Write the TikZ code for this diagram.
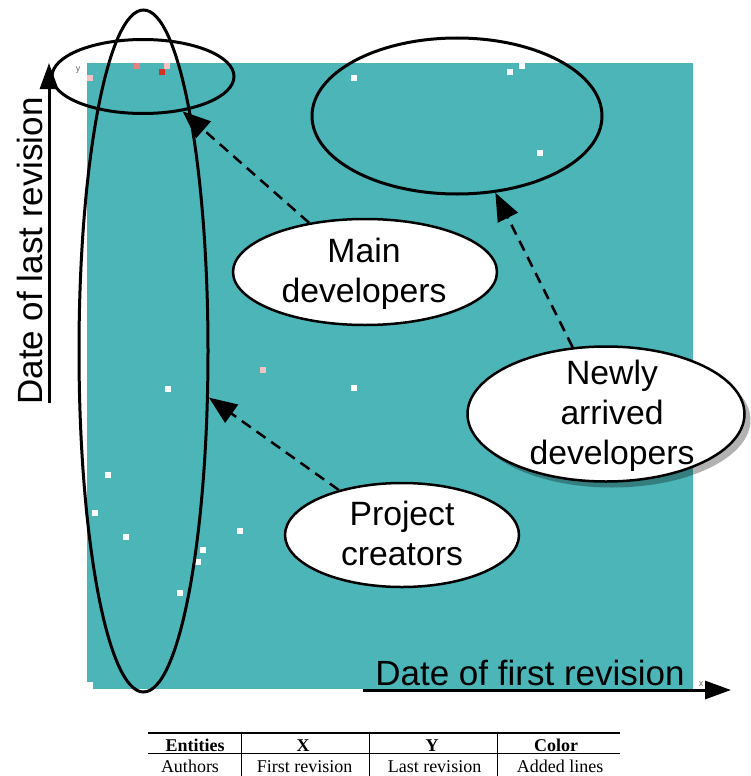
\documentclass[tikz,border=0pt]{standalone}
\usepackage{fontspec}
\setmainfont{Liberation Sans}
\newfontfamily\serifface{Liberation Serif}
\usetikzlibrary{shapes.geometric,arrows.meta,shadows}
\definecolor{plotteal}{RGB}{75,181,184}
\definecolor{cellpink}{RGB}{244,194,194}
\definecolor{cellsalmon}{RGB}{232,128,128}
\definecolor{cellred}{RGB}{214,48,32}
\tikzset{
  group/.style={ellipse, draw, line width=3pt, inner sep=0pt},
  callout/.style={ellipse, draw, fill=white, line width=2.5pt, inner sep=0pt},
  calltext/.style={font=\fontsize{33.7}{40}\selectfont, align=center, inner sep=0pt},
  pointer/.style={-{Triangle[length=28pt,width=22pt]}, line width=2.5pt, dash pattern=on 11pt off 7pt},
  axisline/.style={-{Triangle[length=26pt,width=18pt]}, line width=3pt},
  axislabel/.style={font=\fontsize{35}{40}\selectfont, inner sep=0pt, anchor=base},
  ticklabel/.style={font=\fontsize{9}{10}\selectfont, text=gray!80!black, inner sep=0pt},
  tabtext/.style={font=\serifface\fontsize{18}{20}\selectfont, inner sep=0pt, anchor=base},
  tabhead/.style={tabtext, font=\serifface\bfseries\fontsize{18}{20}\selectfont},
}
\begin{document}
\begin{tikzpicture}[x=1pt, y=-1pt]
\useasboundingbox (0,0) rectangle (750,776);

% plot area
\fill[plotteal] (87,63) rectangle (693,689);
\fill[white] (86,682) rectangle (93,690);

% cells of the plot
\foreach \cx/\cy in {354/78, 510/72, 522/66, 540/153, 168/389, 354/388,
                     108/475, 95/513, 126/537, 203/550, 198/562, 240/531, 180/593}
  \fill[white] (\cx-3,\cy-3) rectangle ++(6,6);
\fill[cellpink]   (87,75) rectangle ++(6,6);
\fill[cellsalmon] (134,63) rectangle ++(6,6);
\fill[cellpink]   (164,63) rectangle ++(6,6);
\fill[cellred]    (159,69) rectangle ++(6,6);
\fill[cellpink]   (260,367) rectangle ++(6,6);

\node[ticklabel] (ytick) at (78,70) {y};
\node[ticklabel] (xtick) at (701,684) {x};

% axes
\coordinate (yfoot) at (49,403);
\coordinate (yhead) at (49,63);
\coordinate (xfoot) at (363,690);
\coordinate (xhead) at (731,690);
\draw[axisline] (yfoot) -- (yhead);
\draw[axisline] (xfoot) -- (xhead);
\node[axislabel, rotate=90] (ylab) at (42,251) {Date of last revision};
\node[axislabel] (xlab) at (530,685) {Date of first revision};

% highlighted groups
\node[group, minimum width=129pt, minimum height=682pt] (creatorsgrp) at (143.5,351) {};
\node[group, minimum width=182pt, minimum height=74pt] (maingrp) at (143,76.5) {};
\node[group, minimum width=290pt, minimum height=156pt] (newgrp) at (457,116) {};

% callouts
\node[callout, minimum width=264pt, minimum height=106pt] (maindev) at (365,272) {};
\node[calltext] (maintext) at (364,274) {Main\\developers};

\node[callout, minimum width=277pt, minimum height=135pt,
      drop shadow={shadow xshift=6pt, shadow yshift=-6pt, fill=black, opacity=0.3}] (newdev) at (606,414) {};
\node[calltext] (newtext) at (612,416) {Newly\\arrived\\developers};

\node[callout, minimum width=234pt, minimum height=104pt] (creators) at (402,535) {};
\node[calltext] (creatorstext) at (402,533) {Project\\creators};

% pointers
\draw[pointer] (maindev) -- (maingrp);
\draw[pointer] (newdev) -- (newgrp);
\draw[pointer] (creators) -- (creatorsgrp);

% legend table
\draw[line width=1.2pt] (148,733) -- (620,733);
\draw[line width=0.6pt] (148,753) -- (620,753);
\foreach \sx in {241,369,497}
  \draw[line width=0.6pt] (\sx,733) -- (\sx,776);
\node[tabhead] (h1) at (195,751) {Entities};
\node[tabhead] (h2) at (303,751) {X};
\node[tabhead] (h3) at (432,751) {Y};
\node[tabhead] (h4) at (556,751) {Color};
\node[tabtext] (r1) at (190,772) {Authors};
\node[tabtext] (r2) at (304.5,772) {First revision};
\node[tabtext] (r3) at (434.5,772) {Last revision};
\node[tabtext] (r4) at (560,772) {Added lines};
\end{tikzpicture}
\end{document}
